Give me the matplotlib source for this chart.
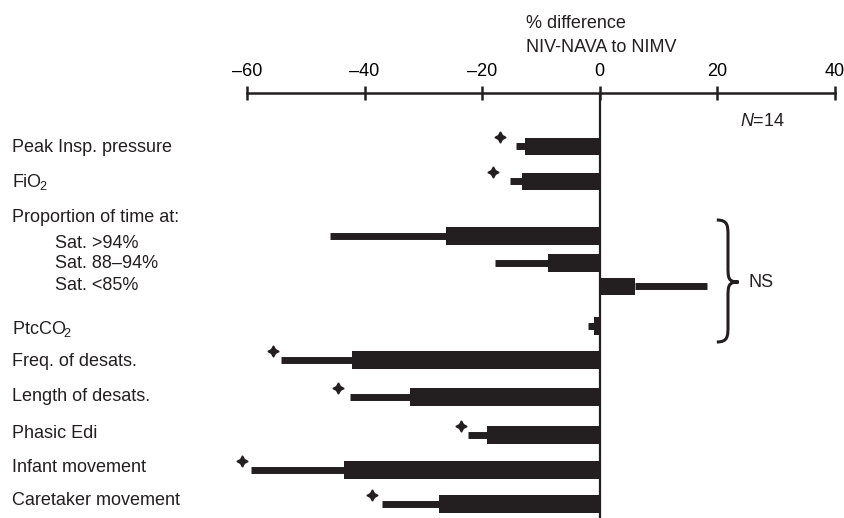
import matplotlib.pyplot as plt
import matplotlib.transforms as mtransforms
from matplotlib.path import Path
from matplotlib.patches import PathPatch

plt.rcParams['font.family'] = ['Liberation Sans', 'DejaVu Sans']
plt.rcParams['mathtext.fontset'] = 'custom'
plt.rcParams['mathtext.rm'] = 'Liberation Sans'
plt.rcParams['mathtext.it'] = 'Liberation Sans:italic'

# data: % difference NIV-NAVA to NIMV (bar = mean, line = error end)
labels = ['Peak Insp. pressure', r'$\mathrm{FiO}\hspace{-0.08}_2$', 'Sat. >94%', 'Sat. 88\u201394%',
          'Sat. <85%', r'$\mathrm{PtcCO}\hspace{-0.08}_2$', 'Freq. of desats.', 'Length of desats.',
          'Phasic Edi', 'Infant movement', 'Caretaker movement']
means = [-12.8, -13.3, -26.1, -8.8, 6.0, -1.0, -42.2, -32.3, -19.2, -43.5, -27.4]
err_end = [-14.3, -15.3, -45.9, -17.9, 18.2, -2.0, -54.3, -42.4, -22.4, -59.4, -37.1]
star_x = [-17.0, -18.2, None, None, None, None, -55.6, -44.5, -23.6, -60.9, -38.8]
ticks = [-60, -40, -20, 0, 20, 40]
tick_labels = ['\u201360', '\u201340', '\u201320', '0', '20', '40']

# layout (figure pixels, y measured from top)
row_y = [146.5, 181.5, 236, 263, 286.5, 326, 360, 397, 435, 470, 504]
label_y = [148, 182, 243, 264, 286, 329, 362, 397, 434, 468, 501]
indent = [False, False, True, True, True, False, False, False, False, False, False]
ink = '#231f20'
fs = 13

fig = plt.figure(figsize=(8.45, 5.18), dpi=100)
ax = fig.add_axes([247 / 845, 0, 588 / 845, 1 - 93 / 518])
ax.set_xlim(-60, 40)
ax.set_ylim(518, 93)

ax.barh(row_y, means, height=17.5, color=ink, zorder=3)
ax.hlines(row_y, means, err_end, color=ink, linewidth=5, zorder=3)
for sx, y in zip(star_x, row_y):
    if sx is not None:
        ax.plot(sx, y - 9, marker=(4, 1, 0), markersize=8, color=ink, zorder=4, clip_on=False)

ax.axvline(0, color=ink, linewidth=1.6, zorder=4)

# axis on top
for s in ['left', 'right', 'bottom']:
    ax.spines[s].set_visible(False)
ax.spines['top'].set_linewidth(1.8)
ax.spines['top'].set_color(ink)
ax.xaxis.tick_top()
ax.set_xticks(ticks)
ax.set_xticklabels(tick_labels, fontsize=fs)
ax.tick_params(axis='x', direction='inout', length=10, width=1.8, color=ink, pad=4)
ax.set_yticks([])

# row labels
trans = mtransforms.blended_transform_factory(fig.transFigure, ax.transData)
for lab, y, ind in zip(labels, label_y, indent):
    x = 55 / 845 if ind else 12 / 845
    ax.text(x, y, lab, transform=trans, fontsize=fs, va='center', ha='left', color=ink)
ax.text(12 / 845, 218, 'Proportion of time at:', transform=trans, fontsize=fs,
        va='center', ha='left', color=ink)

# title
ax.text(-12.6, 24, '% difference', fontsize=fs, va='center', ha='left', color=ink, clip_on=False)
ax.text(-12.6, 47, 'NIV-NAVA to NIMV', fontsize=fs, va='center', ha='left', color=ink, clip_on=False)

ax.text(23.8, 122, '$N$=14', fontsize=fs, va='center', ha='left', color=ink)

# NS brace
x0, xm, x1 = 19.9, 21.8, 23.6
yt, ymid, yb = 220, 282, 342
verts = [(x0, yt), (xm, yt), (xm, yt + 6), (xm, yt + 16),
         (xm, ymid - 16),
         (xm, ymid - 4), (xm, ymid), (x1, ymid),
         (xm, ymid), (xm, ymid + 4), (xm, ymid + 16),
         (xm, yb - 16),
         (xm, yb - 6), (xm, yb), (x0, yb)]
codes = [Path.MOVETO, Path.CURVE4, Path.CURVE4, Path.CURVE4,
         Path.LINETO,
         Path.CURVE4, Path.CURVE4, Path.CURVE4,
         Path.CURVE4, Path.CURVE4, Path.CURVE4,
         Path.LINETO,
         Path.CURVE4, Path.CURVE4, Path.CURVE4]
ax.add_patch(PathPatch(Path(verts, codes), facecolor='none', edgecolor=ink, linewidth=2.2, clip_on=False))
ax.text(25.3, 283, 'NS', fontsize=fs, va='center', ha='left', color=ink)

plt.savefig('out.png', dpi=100)
